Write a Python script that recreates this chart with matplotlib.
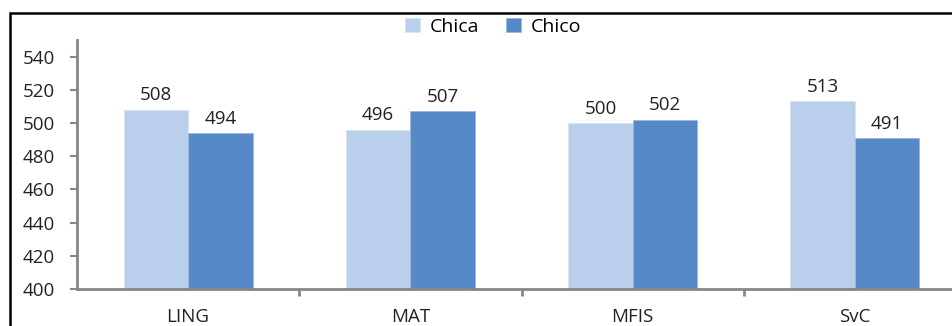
import matplotlib
matplotlib.use("Agg")
import matplotlib.pyplot as plt
import numpy as np
from matplotlib.patches import Rectangle

categories = ["LING", "MAT", "MFIS", "SvC"]
chica = [508, 496, 500, 513]
chico = [494, 507, 502, 491]
series_names = ["Chica", "Chico"]
yticks = [400, 420, 440, 460, 480, 500, 520, 540]

plt.rcParams['font.family'] = ['Open Sans', 'DejaVu Sans']

fig = plt.figure(figsize=(9.52, 3.26), dpi=100)
ax = fig.add_axes([77/952, 1-289/326, (966-77)/952, (289-40)/326])

c_light = "#B9CFEB"
c_dark = "#5689C8"
x = np.arange(len(categories))
w = 0.29
b1 = ax.bar(x - w/2, chica, w, color=c_light, edgecolor="#D8E4F3", linewidth=0.6, label=series_names[0])
b2 = ax.bar(x + w/2, chico, w, color=c_dark, edgecolor="#9DB8DC", linewidth=0.6, label=series_names[1])

for bars, vals in ((b1, chica), (b2, chico)):
    for r, v in zip(bars, vals):
        ax.text(r.get_x() + r.get_width()/2, v + 3.2, str(v), ha='center', va='bottom',
                fontsize=13.5, color="#222222")

ax.set_ylim(400, 550)
ax.set_xlim(-0.5, 3.5)
ax.set_yticks(yticks)
ax.set_yticklabels([str(t) for t in yticks], fontsize=13.5, color="#222222")
ax.set_xticks(x)
ax.set_xticklabels(categories, fontsize=13.5, color="#222222")
ax.tick_params(axis='x', length=0, pad=14)
ax.set_xticks([0.5, 1.5, 2.5], minor=True)
ax.tick_params(axis='x', which='minor', length=5, width=2, color="#868686", direction='out')
ax.tick_params(axis='y', length=5, width=1.5, color="#868686", direction='out', pad=11)

for s in ['top', 'right']:
    ax.spines[s].set_visible(False)
for s in ['left', 'bottom']:
    ax.spines[s].set_color("#868686")
    ax.spines[s].set_linewidth(2)

leg = fig.legend(loc='center', bbox_to_anchor=(493/952, 1-27/326), ncol=2, frameon=False,
                 fontsize=14, handlelength=0.75, handleheight=0.75, handletextpad=0.5,
                 columnspacing=1.4)

fig.patches.append(Rectangle((9.5/952, -0.5), 2, 0.5 + (1-12.5/326), transform=fig.transFigure,
                             fill=False, edgecolor='black', linewidth=1.8, figure=fig))

fig.savefig("out.png", dpi=100)
